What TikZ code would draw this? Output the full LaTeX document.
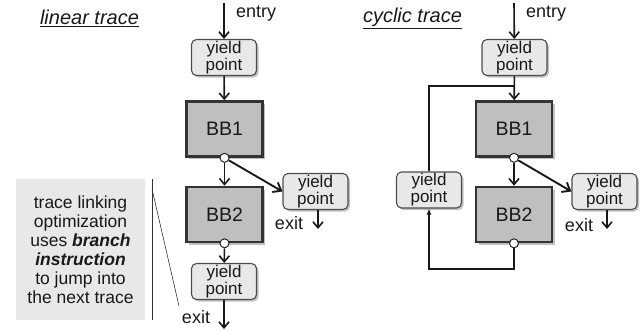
\documentclass[tikz,border=0pt]{standalone}
\usepackage{fontspec}
\setmainfont{Liberation Sans}
\usetikzlibrary{positioning}
\usetikzlibrary{shadows}
\usetikzlibrary{arrows.meta}
\definecolor{ink}{gray}{0.1}
\tikzset{
    yieldnode/.style = {rectangle, rounded corners=5pt, draw=black!70, fill=black!9, line width=1.1pt, align=center, minimum width=65pt, minimum height=36pt, inner sep=1pt, text=ink, font=\fontsize{17}{14}\selectfont, drop shadow={shadow xshift=2pt, shadow yshift=-2pt, fill=black!30, opacity=0.8}},
    bbnode/.style = {rectangle, draw=black!80, line width=2.6pt, fill=black!25, minimum width=76pt, minimum height=55pt, text=ink, font=\fontsize{19.5}{19.5}\selectfont, drop shadow={shadow xshift=2.5pt, shadow yshift=-2.5pt, fill=black!30, opacity=0.8}},
    portnode/.style = {circle, draw=black!85, fill=white, line width=1pt, minimum size=9pt, inner sep=0pt},
    labelnode/.style = {text=ink, inner sep=0pt, font=\fontsize{18}{18}\selectfont},
    titlenode/.style = {text=ink, inner sep=0pt, font=\fontsize{20}{20}\selectfont\itshape},
}

\begin{document}
\begin{tikzpicture}[x=1pt, y=-1pt]
\tikzset{
    arr/.style = {-{Straight Barb[length=6pt, width=10pt, line width=1.6pt]}, line width=1.6pt, ink},
    arrb/.style = {-{Straight Barb[length=7pt, width=11pt, line width=1.9pt]}, line width=1.9pt, ink},
    loopline/.style = {line width=1.5pt, ink},
}
\useasboundingbox (0,0) rectangle (643,330);
% linear trace
\node[titlenode] at (89.5,18) (titleL) {\underline{linear trace}};
\coordinate (inL) at (224,3);
\node[labelnode, anchor=west] at (236,14) (entryL) {entry};
\node[yieldnode] at (224,57.5) (ypA) {yield\\point};
\node[bbnode] at (224.5,129) (bbA) {BB1};
\node[portnode] at (bbA.south) (outA) {};
\node[yieldnode] at (315.5,191.5) (ypB) {yield\\point};
\node[bbnode] at (224.5,214.5) (bbB) {BB2};
\node[portnode] at (bbB.south) (outB) {};
\node[yieldnode] at (224,281.5) (ypE) {yield\\point};
\coordinate (exitB) at (318,229);
\node[labelnode] at (289,223) {exit};
\coordinate (exitE) at (224,329);
\node[labelnode] at (196,317) {exit};
%
\draw[arr] (inL) -- (ypA);
\draw[arr] (ypA) -- (bbA);
\draw[arr] (outA) -- (bbB);
\draw[arrb] (outA) -- (ypB.west);
\draw[arr] (ypB.south -| exitB) -- (exitB);
\draw[arr] (outB) -- (ypE);
\draw[arr] (ypE) -- (exitE);
%
\node[fill=black!9, minimum width=129pt, minimum height=141pt, align=center, text=ink, font=\fontsize{17.5}{19}\selectfont] at (80.5,249.5) (note) {trace linking\\optimization\\uses \textbf{\textit{branch}}\\\textbf{\textit{instruction}}\\to jump into\\the next trace};
\coordinate (barT) at (152,179);
\coordinate (barB) at (152,320);
\coordinate (diagT) at (152,189);
\coordinate (diagB) at (179,306);
\draw[black!80, line width=0.9pt] (barT) -- (barB);
\draw[black!80, line width=0.6pt] (diagT) -- (diagB);
% cyclic trace
\node[titlenode] at (412.5,18) (titleR) {\underline{cyclic trace}};
\coordinate (inR) at (514,3);
\node[labelnode, anchor=west] at (526,14) (entryR) {entry};
\node[yieldnode] at (514.5,57.5) (ypC) {yield\\point};
\node[bbnode] at (514,129) (bbC) {BB1};
\node[portnode] at (bbC.south) (outC) {};
\node[yieldnode] at (604.5,191.5) (ypD) {yield\\point};
\node[bbnode] at (514,214.5) (bbD) {BB2};
\node[portnode] at (bbD.south) (outD) {};
\node[yieldnode] at (429,190) (ypL) {yield\\point};
\coordinate (exitD) at (607,229);
\node[labelnode] at (579,225) {exit};
\coordinate (loopB) at (429,269);
\coordinate (loopT) at (514,86);
%
\draw[arr] (inR) -- (ypC);
\draw[arr] (ypC) -- (bbC);
\draw[arr] (outC) -- (bbD);
\draw[arrb] (outC) -- (ypD.west);
\draw[arr] (ypD.south -| exitD) -- (exitD);
\draw[loopline, -{Latex[length=6pt, width=5pt]}] (outD) |- (loopB) -- (ypL.south);
\draw[loopline] (ypL.north) |- (loopT);
\end{tikzpicture}
\end{document}
